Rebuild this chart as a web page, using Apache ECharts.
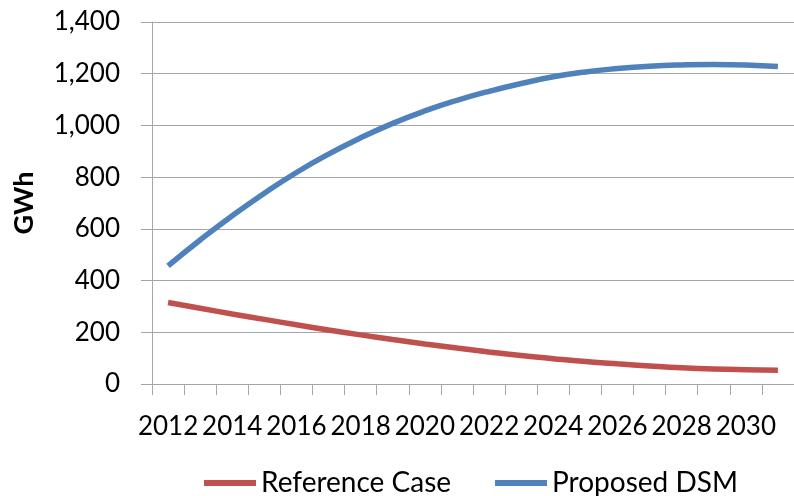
<!DOCTYPE html>
<html>
<head>
<meta charset="utf-8">
<script src="https://cdn.jsdelivr.net/npm/echarts@6/dist/echarts.min.js"></script>
<style>
  html, body { margin: 0; padding: 0; background: #fff; }
  #chart { width: 794px; height: 496px; }
</style>
</head>
<body>
<div id="chart"></div>
<script>
// years on the x axis (2031 has no label, the chart is cut off at the right)
var years = ["2012", "2013", "2014", "2015", "2016", "2017", "2018", "2019", "2020", "2021",
  "2022", "2023", "2024", "2025", "2026", "2027", "2028", "2029", "2030", "2031"];
var referenceCase = [315, 293, 271, 250, 229, 209, 190, 172, 155, 139,
  124, 110, 98, 87, 78, 70, 63, 58, 55, 53];
var proposedDSM = [457, 557, 651, 738, 818, 889, 952, 1008, 1056, 1097,
  1132, 1162, 1188, 1207, 1220, 1229, 1234, 1236, 1234, 1228];
var seriesNames = ["Reference Case", "Proposed DSM"];

var chart = echarts.init(document.getElementById("chart"));
var font = "Lato, 'Open Sans', sans-serif";
var option = {
  animation: false,
  grid: {
    left: 152,
    top: 22,
    bottom: 112,
    right: -13, //plot runs past the right edge
  },
  legend: {
    left: 199,
    top: 464,
    icon: "rect",
    itemWidth: 52,
    itemHeight: 6,
    itemGap: 44,
    textStyle: { fontFamily: font, fontSize: 28, color: "#000" },
    data: seriesNames,
  },
  xAxis: {
    type: "category",
    data: years,
    boundaryGap: true,
    axisLine: { lineStyle: { color: "#a6a6a6", width: 1 } },
    axisTick: { show: true, length: 11, interval: 0, lineStyle: { color: "#a6a6a6" } },
    axisLabel: {
      interval: 1,
      margin: 30,
      fontFamily: font,
      fontSize: 26,
      color: "#000",
    },
  },
  yAxis: {
    type: "value",
    min: 0,
    max: 1400,
    interval: 200,
    name: "GWh",
    nameLocation: "middle",
    nameGap: 114,
    nameTextStyle: { fontFamily: font, fontSize: 27, fontWeight: "bold", color: "#000" },
    axisLine: { show: true, lineStyle: { color: "#a6a6a6", width: 1 } },
    axisTick: { show: true, length: 11, lineStyle: { color: "#a6a6a6" } },
    splitLine: { lineStyle: { color: "#a6a6a6", width: 1 } },
    axisLabel: {
      margin: 32,
      fontFamily: font,
      fontSize: 26,
      color: "#000",
      formatter: function (v) {
        return v.toLocaleString("en-US");
      },
    },
  },
  series: [
    {
      name: seriesNames[0],
      type: "line",
      data: referenceCase,
      smooth: true,
      symbol: "none",
      lineStyle: { width: 5.5, color: "#c0504d" },
      itemStyle: { color: "#c0504d" },
    },
    {
      name: seriesNames[1],
      type: "line",
      data: proposedDSM,
      smooth: true,
      symbol: "none",
      lineStyle: { width: 5.5, color: "#4f81bd" },
      itemStyle: { color: "#4f81bd" },
    },
  ],
};
chart.setOption(option);
</script>
</body>
</html>
